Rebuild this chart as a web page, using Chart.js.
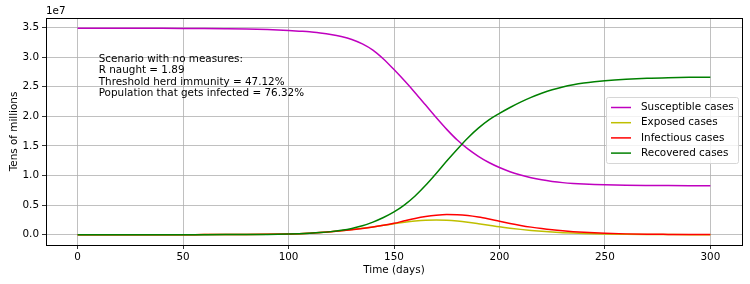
<!DOCTYPE html>
<html>
<head>
<meta charset="utf-8">
<script src="https://cdn.jsdelivr.net/npm/chart.js@4.4.1/dist/chart.umd.min.js"></script>
<style>
  html, body { margin: 0; padding: 0; background: #fff; }
  #wrap { width: 750px; height: 284px; }
</style>
</head>
<body>
<div id="wrap"><canvas id="seir" width="750" height="284"></canvas></div>
<script>
// SEIR curves (people); denser sampling where the curves bend
const days = [0, 10, 20, 30, 40, 50, 60, 70, 80, 90,
  100, 105, 110, 115, 120, 125, 130, 135, 140, 145, 150, 155, 160, 165, 170, 175,
  180, 185, 190, 195, 200, 205, 210, 215, 220, 225, 230, 235, 240, 245, 250,
  260, 270, 280, 290, 300];

const susceptible = [3.488e7, 3.488e7, 3.488e7, 3.487e7, 3.487e7, 3.486e7, 3.484e7, 3.481e7, 3.476e7, 3.466e7,
  3.45e7, 3.44e7, 3.43e7, 3.41e7, 3.385e7, 3.35e7, 3.3e7, 3.225e7, 3.12e7, 2.97e7, 2.79e7, 2.6e7,
  2.4e7, 2.19e7, 1.98e7, 1.78e7, 1.6e7, 1.45e7, 1.325e7, 1.22e7, 1.135e7, 1.065e7, 1.01e7, 0.963e7,
  0.927e7, 0.9e7, 0.88e7, 0.866e7, 0.856e7, 0.849e7, 0.844e7,
  0.837e7, 0.833e7, 0.83e7, 0.828e7, 0.827e7];
const exposed = [0, 0, 0.0002e7, 0.0004e7, 0.0007e7, 0.001e7, 0.0015e7, 0.002e7, 0.003e7, 0.006e7,
  0.012e7, 0.018e7, 0.026e7, 0.036e7, 0.049e7, 0.066e7, 0.086e7, 0.108e7, 0.132e7, 0.158e7, 0.185e7, 0.21e7,
  0.23e7, 0.244e7, 0.249e7, 0.245e7, 0.232e7, 0.212e7, 0.187e7, 0.16e7, 0.133e7, 0.11e7, 0.09e7, 0.072e7,
  0.057e7, 0.045e7, 0.035e7, 0.027e7, 0.021e7, 0.016e7, 0.012e7,
  0.007e7, 0.004e7, 0.002e7, 0.001e7, 0.001e7];
const infectious = [0, 0, 0.0002e7, 0.0004e7, 0.0007e7, 0.001e7, 0.0015e7, 0.002e7, 0.003e7, 0.006e7,
  0.012e7, 0.018e7, 0.026e7, 0.037e7, 0.05e7, 0.066e7, 0.085e7, 0.106e7, 0.13e7, 0.158e7, 0.192e7, 0.235e7,
  0.275e7, 0.307e7, 0.329e7, 0.34e7, 0.338e7, 0.324e7, 0.298e7, 0.264e7, 0.226e7, 0.19e7, 0.157e7, 0.128e7,
  0.103e7, 0.082e7, 0.065e7, 0.051e7, 0.04e7, 0.031e7, 0.024e7,
  0.014e7, 0.008e7, 0.005e7, 0.003e7, 0.002e7];
const recovered = [0, 0, 0, 0, 0, 0.0005e7, 0.001e7, 0.0015e7, 0.002e7, 0.005e7,
  0.012e7, 0.018e7, 0.026e7, 0.037e7, 0.052e7, 0.074e7, 0.105e7, 0.15e7, 0.213e7, 0.29e7, 0.385e7, 0.505e7,
  0.655e7, 0.835e7, 1.035e7, 1.245e7, 1.445e7, 1.635e7, 1.8e7, 1.94e7, 2.05e7, 2.15e7, 2.24e7, 2.32e7,
  2.39e7, 2.45e7, 2.497e7, 2.534e7, 2.563e7, 2.585e7, 2.602e7,
  2.626e7, 2.643e7, 2.653e7, 2.659e7, 2.662e7];

const seriesNames = ['Susceptible cases', 'Exposed cases', 'Infectious cases', 'Recovered cases'];
const seriesColors = ['#bf00bf', '#bfbf00', '#ff0000', '#008000'];

const xTicks = [0, 50, 100, 150, 200, 250, 300];
const yTicks = [0, 0.5e7, 1.0e7, 1.5e7, 2.0e7, 2.5e7, 3.0e7, 3.5e7];

const noteLines = [
  'Scenario with no measures:',
  'R naught = 1.89',
  'Threshold herd immunity = 47.12%',
  'Population that gets infected = 76.32%'
];

const FONT = '"DejaVu Sans", sans-serif';
const FSIZE = 10.4;

function toPoints(values) {
  return days.map((d, i) => ({ x: d, y: values[i] }));
}

const allSeries = [susceptible, exposed, infectious, recovered];
const datasets = allSeries.map((vals, i) => ({
  label: seriesNames[i],
  data: toPoints(vals),
  borderColor: seriesColors[i],
  backgroundColor: seriesColors[i],
  borderWidth: 1.5,
  pointRadius: 0,
  cubicInterpolationMode: 'monotone',
  order: 3 - i, // last series on top, like matplotlib
}));

// spines, offset text, the note and a matplotlib-like legend box
const decorPlugin = {
  id: 'decor',
  afterDatasetsDraw(chart) {
    const { ctx, chartArea: a, scales } = chart;
    ctx.save();
    ctx.strokeStyle = '#000';
    ctx.lineWidth = 1;
    ctx.strokeRect(Math.round(a.left) + 0.5, Math.round(a.top) + 0.5,
      Math.round(a.right - a.left), Math.round(a.bottom - a.top));

    ctx.fillStyle = '#000';
    ctx.font = FSIZE + 'px ' + FONT;
    ctx.textBaseline = 'alphabetic';
    ctx.textAlign = 'left';
    ctx.fillText('1e7', a.left, a.top - 4);

    // note text
    const nx = scales.x.getPixelForValue(10);
    const ny = scales.y.getPixelForValue(2.97e7);
    ctx.textBaseline = 'middle';
    noteLines.forEach((line, i) => ctx.fillText(line, nx, ny + i * 11.5));

    // legend
    const bx = 606.5, by = 97.5, bw = 132, bh = 66;
    ctx.beginPath();
    ctx.roundRect(bx, by, bw, bh, 2);
    ctx.fillStyle = 'rgba(255,255,255,0.8)';
    ctx.fill();
    ctx.strokeStyle = '#d6d6d6';
    ctx.stroke();
    chart.data.datasets.forEach((ds, i) => {
      const y = 107.5 + i * 15.2;
      ctx.beginPath();
      ctx.moveTo(611, y);
      ctx.lineTo(631, y);
      ctx.strokeStyle = ds.borderColor;
      ctx.lineWidth = 1.5;
      ctx.stroke();
      ctx.fillStyle = '#000';
      ctx.fillText(ds.label, 641, y);
    });
    ctx.restore();
  }
};

new Chart(document.getElementById('seir').getContext('2d'), {
  type: 'line',
  data: { datasets: datasets },
  options: {
    responsive: false,
    animation: false,
    events: [],
    layout: { padding: { top: 18, right: 8, left: 0, bottom: 0 } },
    scales: {
      x: {
        type: 'linear',
        min: -15,
        max: 315,
        afterBuildTicks: (scale) => { scale.ticks = xTicks.map(v => ({ value: v })); },
        afterFit: (scale) => { scale.height = 39; },
        grid: { color: '#b0b0b0', lineWidth: 0.8, tickLength: 4, tickColor: '#000', tickWidth: 0.8 },
        border: { display: false },
        ticks: { color: '#000', font: { family: FONT, size: FSIZE }, padding: 2, maxRotation: 0 },
        title: { display: true, text: 'Time (days)', color: '#000',
          font: { family: FONT, size: FSIZE }, padding: { top: 0, bottom: 7 } },
      },
      y: {
        type: 'linear',
        min: -0.174e7,
        max: 3.662e7,
        afterBuildTicks: (scale) => { scale.ticks = yTicks.map(v => ({ value: v })); },
        afterFit: (scale) => { scale.width = 46; },
        grid: { color: '#b0b0b0', lineWidth: 0.8, tickLength: 4, tickColor: '#000', tickWidth: 0.8 },
        border: { display: false },
        ticks: { color: '#000', font: { family: FONT, size: FSIZE }, padding: 3,
          callback: (v) => (v / 1e7).toFixed(1) },
        title: { display: true, text: 'Tens of millions', color: '#000',
          font: { family: FONT, size: FSIZE }, padding: { top: 8, bottom: 0 } },
      },
    },
    plugins: {
      legend: { display: false },
      tooltip: { enabled: false },
    },
  },
  plugins: [decorPlugin],
});
</script>
</body>
</html>
